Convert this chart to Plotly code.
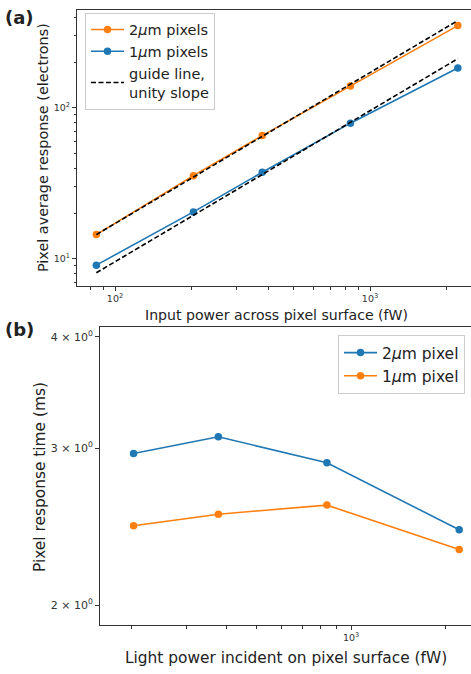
import math
import plotly.graph_objects as go

# ---------------- data ----------------
# Panel (a)
power_a = [84.5, 203, 378, 838, 2210]           # fW
resp_2um = [14.5, 35.6, 65.6, 140, 351]         # electrons
resp_1um = [9.1, 20.5, 37.5, 79.3, 184]         # electrons
guide_x = [84.5, 2210]
guide_2um = [14.5, 379]
guide_1um = [8.1, 212]

# Panel (b)
power_b = [203, 378, 838, 2210]                 # fW
time_2um = [2.96, 3.09, 2.89, 2.43]             # ms
time_1um = [2.455, 2.53, 2.59, 2.31]            # ms

a_xticks = [100, 1000]
a_xticktext = ["10<sup>2</sup>", "10<sup>3</sup>"]
a_xminor = [80, 90, 200, 300, 400, 500, 600, 700, 800, 900, 2000]
a_yticks = [10, 100]
a_yticktext = ["10<sup>1</sup>", "10<sup>2</sup>"]
a_yminor = [7, 8, 9, 20, 30, 40, 50, 60, 70, 80, 90, 200, 300, 400]

b_xticks = [1000]
b_xticktext = ["10<sup>3</sup>"]
b_xminor = [200, 300, 400, 500, 600, 700, 800, 900, 2000]
b_yticks = [2, 3, 4]
b_yticktext = ["2 × 10<sup>0</sup>", "3 × 10<sup>0</sup>", "4 × 10<sup>0</sup>"]

BLUE = "#1f77b4"
ORANGE = "#ff7f0e"
FONT = "DejaVu Sans"
W, H = 471, 674

fig = go.Figure()

# ---- panel (a)
fig.add_trace(go.Scatter(x=power_a, y=resp_2um, mode="lines+markers",
                         name="2<i>μ</i>m pixels", line=dict(color=ORANGE, width=1.6),
                         marker=dict(size=7.5, color=ORANGE), xaxis="x", yaxis="y", legend="legend"))
fig.add_trace(go.Scatter(x=power_a, y=resp_1um, mode="lines+markers",
                         name="1<i>μ</i>m pixels", line=dict(color=BLUE, width=1.6),
                         marker=dict(size=7.5, color=BLUE), xaxis="x", yaxis="y", legend="legend"))
fig.add_trace(go.Scatter(x=guide_x, y=guide_2um, mode="lines",
                         name="guide line,<br>unity slope",
                         line=dict(color="black", width=1.6, dash="5px,2.5px"),
                         xaxis="x", yaxis="y", legend="legend"))
fig.add_trace(go.Scatter(x=guide_x, y=guide_1um, mode="lines", showlegend=False,
                         line=dict(color="black", width=1.6, dash="5px,2.5px"),
                         xaxis="x", yaxis="y", legend="legend"))

# ---- panel (b)
fig.add_trace(go.Scatter(x=power_b, y=time_2um, mode="lines+markers",
                         name="2<i>μ</i>m pixel", line=dict(color=BLUE, width=1.6),
                         marker=dict(size=7.5, color=BLUE), xaxis="x2", yaxis="y2", legend="legend2"))
fig.add_trace(go.Scatter(x=power_b, y=time_1um, mode="lines+markers",
                         name="1<i>μ</i>m pixel", line=dict(color=ORANGE, width=1.6),
                         marker=dict(size=7.5, color=ORANGE), xaxis="x2", yaxis="y2", legend="legend2"))


def px_x(p):
    return p / W


def px_y(p):
    return 1 - p / H


AX = dict(showgrid=False, zeroline=False, showline=True, linecolor="#333", linewidth=1,
          ticks="outside", ticklen=4, tickwidth=1, tickcolor="#333",
          tickfont=dict(family=FONT, size=9.5, color="#333"), tickmode="array")

fig.update_layout(
    width=W, height=H, autosize=False,
    margin=dict(l=0, r=0, t=0, b=0),
    paper_bgcolor="white", plot_bgcolor="white",
    font=dict(family=FONT, color="#222"),
    xaxis=dict(AX, type="log", domain=[px_x(77), 1], anchor="y",
               range=[1.851, 3.396], mirror=True,
               tickvals=a_xticks, ticktext=a_xticktext,
               minor=dict(tickmode="array", tickvals=a_xminor, ticks="outside",
                          ticklen=2.5, tickcolor="#333")),
    yaxis=dict(AX, type="log", domain=[px_y(286), px_y(9.5)], anchor="x",
               range=[0.821, 2.652], mirror=False,
               tickvals=a_yticks, ticktext=a_yticktext,
               minor=dict(tickmode="array", tickvals=a_yminor, ticks="outside",
                          ticklen=2.5, tickcolor="#333")),
    xaxis2=dict(AX, type="log", domain=[px_x(100), 1], anchor="y2",
                range=[2.2006, 3.382], mirror=True,
                tickvals=b_xticks, ticktext=b_xticktext,
                minor=dict(tickmode="array", tickvals=b_xminor, ticks="outside",
                           ticklen=2.5, tickcolor="#333")),
    yaxis2=dict(AX, type="log", domain=[px_y(625), px_y(327)], anchor="x2",
                range=[math.log10(1.9), math.log10(4.104)], mirror=False,
                tickvals=b_yticks, ticktext=b_yticktext,
                tickfont=dict(family=FONT, size=11, color="#333")),
    legend=dict(x=px_x(85), y=px_y(12.5), xanchor="left", yanchor="top",
                bgcolor="rgba(255,255,255,0.85)", bordercolor="#cccccc", borderwidth=1,
                itemwidth=33,
                font=dict(family=FONT, size=14.5, color="#222")),
    legend2=dict(x=px_x(338), y=px_y(335), xanchor="left", yanchor="top",
                 bgcolor="rgba(255,255,255,0.85)", bordercolor="#cccccc", borderwidth=1,
                 itemwidth=33,
                 font=dict(family=FONT, size=15.5, color="#222")),
)

annotations = [
    dict(text="<b>(a)</b>", x=px_x(3), y=px_y(17), xanchor="left", yanchor="middle",
         font=dict(size=18, color="#222")),
    dict(text="<b>(b)</b>", x=px_x(3), y=px_y(330), xanchor="left", yanchor="middle",
         font=dict(size=18, color="#222")),
    dict(text="Input power across pixel surface (fW)", x=px_x(276), y=px_y(315),
         xanchor="center", yanchor="middle", font=dict(size=14.1, color="#222")),
    dict(text="Pixel average response (electrons)", x=px_x(43), y=px_y(148),
         xanchor="center", yanchor="middle", textangle=-90, font=dict(size=14.4, color="#222")),
    dict(text="Light power incident on pixel surface (fW)", x=px_x(286), y=px_y(658),
         xanchor="center", yanchor="middle", font=dict(size=15.4, color="#222")),
    dict(text="Pixel response time (ms)", x=px_x(40), y=px_y(477),
         xanchor="center", yanchor="middle", textangle=-90, font=dict(size=15.4, color="#222")),
]
for a in annotations:
    a.update(xref="paper", yref="paper", showarrow=False)
    a["font"]["family"] = FONT
fig.update_layout(annotations=annotations)

fig.write_html("out.html")
